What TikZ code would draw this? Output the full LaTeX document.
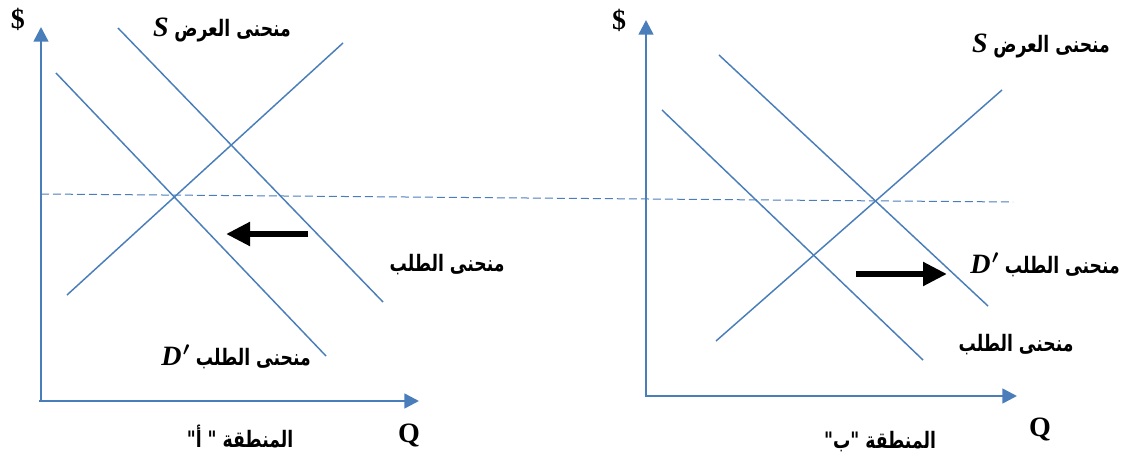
\documentclass[tikz,border=0pt]{standalone}
\usepackage{fontspec}
\setmainfont{Liberation Serif}
\newfontfamily\arabicfont[Script=Arabic]{DejaVu Sans}
\TeXXeTstate=1
\usetikzlibrary{arrows.meta}
\definecolor{lineblue}{HTML}{4A7EBB}
\tikzset{
  curve/.style={draw=lineblue, line width=1.1pt},
  axisline/.style={draw=lineblue, line width=1.9pt, -{Triangle[length=11pt,width=11pt]}},
  guide/.style={draw=lineblue, line width=0.75pt, dash pattern=on 6pt off 3pt},
  shiftarrow/.style={draw=black, line width=5.2pt, -{Triangle[length=18pt,width=17pt]}},
  lat/.style={font=\fontsize{21}{24}\selectfont\bfseries, inner sep=0pt},
  arlab/.style={font=\fontsize{17}{20}\selectfont\bfseries, inner sep=0pt},
}
\newcommand{\artext}[1]{\scalebox{0.76}[1]{\arabicfont\beginR #1\endR}}
\newcommand{\latsym}[1]{{\fontsize{21}{24}\selectfont\bfseries\itshape #1}}
\begin{document}
\begin{tikzpicture}[x=0.75pt, y=-0.75pt]
\useasboundingbox (0,0) rectangle (1131,460);

% ---------- left panel ----------
\coordinate (yA0) at (41,402);
\coordinate (yA1) at (41,27);
\coordinate (xA0) at (39,401);
\coordinate (xA1) at (419,401);
\draw[axisline] (yA0) -- (yA1);
\draw[axisline] (xA0) -- (xA1);

\coordinate (sA0) at (67,295);
\coordinate (sA1) at (343,43);
\coordinate (dA0) at (118,28);
\coordinate (dA1) at (383,302);
\coordinate (dpA0) at (56,73);
\coordinate (dpA1) at (326,356);
\draw[curve] (sA0) -- (sA1);
\draw[curve] (dA0) -- (dA1);
\draw[curve] (dpA0) -- (dpA1);

\coordinate (arA0) at (308,234);
\coordinate (arA1) at (226,234);
\draw[shiftarrow] (arA0) -- (arA1);

\node[lat] (dollarA) at (18,19) {\$};
\node[lat] (QA) at (409,435) {Q};
\node[arlab] (labSA) at (222,30) {\latsym{S}\ \artext{منحنى العرض}};
\node[arlab] (labDA) at (447,265) {\artext{منحنى الطلب}};
\node[arlab] (labDpA) at (236,357) {\latsym{D\kern1pt{\boldmath$'$}}\ \artext{منحنى الطلب}};
\node[arlab] (regA) at (240,437) {\artext{المنطقة " أ"}};

% ---------- right panel ----------
\coordinate (yB0) at (646,397);
\coordinate (yB1) at (646,20);
\coordinate (xB0) at (645,396);
\coordinate (xB1) at (1017,396);
\draw[axisline] (yB0) -- (yB1);
\draw[axisline] (xB0) -- (xB1);

\coordinate (sB0) at (716,341);
\coordinate (sB1) at (1002,90);
\coordinate (dpB0) at (719,55);
\coordinate (dpB1) at (988,306);
\coordinate (dB0) at (662,110);
\coordinate (dB1) at (923,360);
\draw[curve] (sB0) -- (sB1);
\draw[curve] (dpB0) -- (dpB1);
\draw[curve] (dB0) -- (dB1);

\coordinate (arB0) at (856,274);
\coordinate (arB1) at (947,274);
\draw[shiftarrow] (arB0) -- (arB1);

\node[lat] (dollarB) at (619,20) {\$};
\node[lat] (QB) at (1040,429) {Q};
\node[arlab] (labSB) at (1041,46) {\latsym{S}\ \artext{منحنى العرض}};
\node[arlab] (labDpB) at (1045,265) {\latsym{D\kern1pt{\boldmath$'$}}\ \artext{منحنى الطلب}};
\node[arlab] (labDB) at (1016,345) {\artext{منحنى الطلب}};
\node[arlab] (regB) at (880,442) {\artext{المنطقة "ب"}};

% ---------- common price line ----------
\coordinate (pl0) at (41,194);
\coordinate (pl1) at (1013,202);
\draw[guide] (pl0) -- (pl1);
\end{tikzpicture}
\end{document}
